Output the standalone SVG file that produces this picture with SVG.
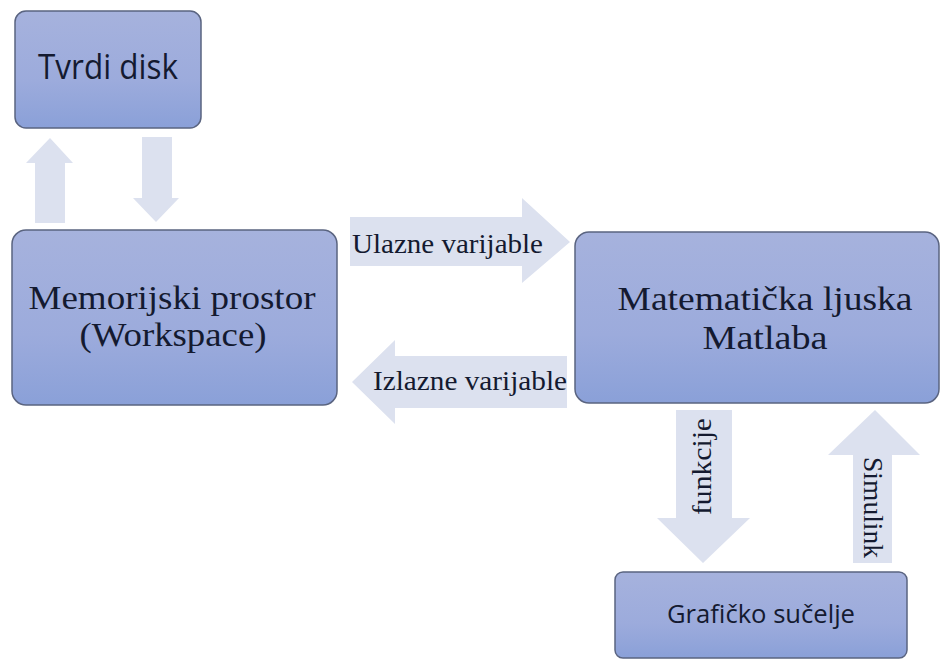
<svg xmlns="http://www.w3.org/2000/svg" width="941" height="660" viewBox="0 0 941 660">
<defs>
<linearGradient id="boxg" x1="0" y1="0" x2="0" y2="1">
<stop offset="0" stop-color="#a6b2dd"/>
<stop offset="0.6" stop-color="#9cabdc"/>
<stop offset="1" stop-color="#8aa0d8"/>
</linearGradient>
</defs>
<style>
.box{fill:url(#boxg);stroke:#5a6480;stroke-width:1.5}
.arr{fill:#dce1ef}
.serif{font-family:"Liberation Serif","Times New Roman",serif;fill:#141a30}
.sans{font-family:"Open Sans","Noto Sans","Liberation Sans",sans-serif;fill:#141a30}
</style>
<rect width="941" height="660" fill="#ffffff"/>
<g id="connectors">
<polygon class="arr" points="35,223 35,163 26,163 50,138 73,163 65,163 65,223"/>
<polygon class="arr" points="142,137 172,137 172,198 179,198 156,222 133,198 142,198"/>
<polygon class="arr" points="350,217 522,217 522,198 570,242 522,283 522,266 350,266"/>
<polygon class="arr" points="567,356 395,356 395,340 352,382 395,424 395,408 567,408"/>
<polygon class="arr" points="676,410 732,410 732,518 750,518 703,563 657,518 676,518"/>
<polygon class="arr" points="853,563 853,455 828,455 875,410 920,455 892,455 892,563"/>
<text class="serif" x="352" y="253" font-size="27" textLength="191" lengthAdjust="spacingAndGlyphs">Ulazne varijable</text>
<text class="serif" x="373" y="390" font-size="27" textLength="194" lengthAdjust="spacingAndGlyphs">Izlazne varijable</text>
<text class="serif" font-size="27" transform="translate(711,515) rotate(-90)" textLength="97" lengthAdjust="spacingAndGlyphs">funkcije</text>
<text class="serif" font-size="27" transform="translate(864,457) rotate(90)" textLength="101" lengthAdjust="spacingAndGlyphs">Simulink</text>
</g>
<g id="tvrdi-disk">
<rect class="box" x="15" y="11" width="186" height="117" rx="11"/>
<text class="sans" x="108" y="79" font-size="34" text-anchor="middle" textLength="140" lengthAdjust="spacingAndGlyphs">Tvrdi disk</text>
</g>
<g id="memorijski-prostor">
<rect class="box" x="12" y="230" width="325" height="175" rx="14"/>
<text class="serif" x="172" y="309" font-size="33" text-anchor="middle" textLength="287" lengthAdjust="spacingAndGlyphs">Memorijski prostor</text>
<text class="serif" x="173" y="346" font-size="33" text-anchor="middle" textLength="187" lengthAdjust="spacingAndGlyphs">(Workspace)</text>
</g>
<g id="matematicka-ljuska">
<rect class="box" x="575" y="232" width="364" height="171" rx="14"/>
<text class="serif" x="765" y="310" font-size="34" text-anchor="middle" textLength="295" lengthAdjust="spacingAndGlyphs">Matematička ljuska</text>
<text class="serif" x="765" y="349" font-size="34" text-anchor="middle" textLength="125" lengthAdjust="spacingAndGlyphs">Matlaba</text>
</g>
<g id="graficko-sucelje">
<rect class="box" x="615" y="572" width="292" height="86" rx="8"/>
<text class="sans" x="761" y="623" font-size="25" text-anchor="middle" textLength="188" lengthAdjust="spacingAndGlyphs">Grafičko sučelje</text>
</g>
</svg>
